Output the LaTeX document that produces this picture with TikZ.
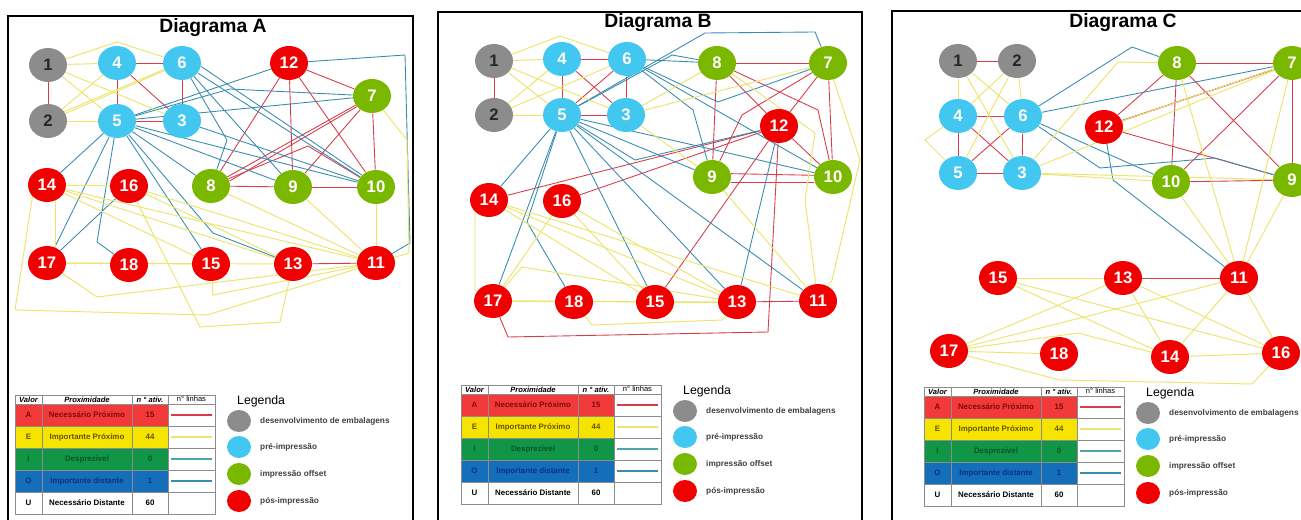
\documentclass[tikz,border=0pt]{standalone}
\usepackage{fontspec}
\setmainfont{Liberation Sans}
\usepackage{tikz}
\usetikzlibrary{shapes.geometric, positioning, backgrounds}

\definecolor{devgray}{RGB}{140,140,140}
\definecolor{preblue}{RGB}{66,200,240}
\definecolor{offgreen}{RGB}{122,184,0}
\definecolor{posred}{RGB}{240,0,0}
\definecolor{lnred}{RGB}{214,60,74}
\definecolor{lnyel}{RGB}{236,228,110}
\definecolor{lnblue}{RGB}{56,140,176}
\definecolor{lnteal}{RGB}{80,165,170}
\definecolor{rowA}{RGB}{242,58,58}
\definecolor{rowE}{RGB}{246,228,0}
\definecolor{rowI}{RGB}{16,150,70}
\definecolor{rowO}{RGB}{20,110,185}
\definecolor{txtA}{RGB}{125,10,10}
\definecolor{txtE}{RGB}{100,85,0}
\definecolor{txtI}{RGB}{10,85,40}
\definecolor{txtO}{RGB}{10,50,130}

\begin{document}
\begin{tikzpicture}[x=0.02cm, y=-0.02cm,
    proc/.style={ellipse, minimum width=0.76cm, minimum height=0.68cm,
      inner sep=0pt, text=white, font=\bfseries\fontsize{9.5}{10}\selectfont},
    devnode/.style={proc, fill=devgray, text=black!85},
    prenode/.style={proc, fill=preblue}, offnode/.style={proc, fill=offgreen},
    posnode/.style={proc, fill=posred},
    redline/.style={lnred, line width=0.5pt},
    yelline/.style={lnyel, line width=0.55pt},
    blueline/.style={lnblue, line width=0.5pt},
    panel/.style={draw=black, line width=1.2pt},
    title/.style={anchor=base, font=\bfseries\fontsize{11}{12}\selectfont},
    gridline/.style={draw=black!45, line width=0.4pt},
    hdr/.style={font=\bfseries\itshape\fontsize{4.3}{5}\selectfont},
    cell/.style={font=\bfseries\fontsize{4.5}{5}\selectfont},
    legdot/.style={ellipse, minimum width=0.48cm, minimum height=0.44cm,
      inner sep=0pt},
    legtxt/.style={anchor=west, text=black!75,
      font=\bfseries\fontsize{4.7}{5}\selectfont}, ]

    \useasboundingbox (0,0) rectangle (1301,520);
    \clip (0,0) rectangle (1301,520);

    % Panels
    \draw[panel] (8,16) rectangle (413,530);
    \draw[panel] (438,12) rectangle (862,530);
    \draw[panel] (892,11) rectangle (1320,530);
    \node[title] (titleA) at (213,33) {Diagrama A};
    \node[title] (titleB) at (658,28) {Diagrama B};
    \node[title] (titleC) at (1123,28) {Diagrama C};

    % Sectors
    \foreach \p/\n/\x/\y in {a/1/48/65, a/2/48/121, b/1/494/61, b/2/494/115,
      c/1/958/61, c/2/1017/61}
      \node[devnode] (\p\n) at (\x,\y) {\n};
    \foreach \p/\n/\x/\y in {a/4/117/63, a/6/182/63, a/5/117/121, a/3/182/121,
      b/4/562/59, b/6/627/59, b/5/562/115, b/3/626/115,
      c/4/958/116, c/6/1023/116, c/5/958/173, c/3/1022/173}
      \node[prenode] (\p\n) at (\x,\y) {\n};
    \foreach \p/\n/\x/\y in {a/7/372/96, a/8/211/186, a/9/293/187, a/10/376/187,
      b/8/717/63, b/7/828/63, b/9/712/177, b/10/833/177,
      c/8/1177/63, c/7/1292/63, c/10/1171/182, c/9/1292/180}
      \node[offnode] (\p\n) at (\x,\y) {\n};
    \foreach \p/\n/\x/\y in {a/12/289/63, a/14/47/185, a/16/129/186,
      a/17/47/263, a/18/129/265, a/15/211/264, a/13/293/264, a/11/376/263,
      b/12/779/126, b/14/489/200, b/16/562/201, b/17/493/301, b/18/574/302,
      b/15/655/302, b/13/737/302, b/11/818/301,
      c/12/1104/127, c/15/998/278, c/13/1123/278, c/11/1239/278,
      c/17/949/351, c/18/1059/354, c/14/1170/357, c/16/1281/353}
      \node[posnode] (\p\n) at (\x,\y) {\n};

    \begin{scope}[on background layer]
    % Diagrama A
    \foreach \s/\t in {1/2,4/6,4/5,4/3,6/3,5/3,12/7,12/8,12/9,12/10,7/8,7/9,
      7/10,8/9,9/10,13/11}
      \draw[redline] (a\s) -- (a\t);
    \draw[redline] (a7.215) -- (a8.15); \draw[redline] (a8) -- (308,146) -- (a10);
    \foreach \s/\t in {5/12,5/7,5/10,5/9,5/8,5/14,5/17,5/15,16/17,3/10,6/9,6/10}
      \draw[blueline] (a\s) -- (a\t);
    \draw[blueline] (a6.-10) -- (a10.140);
    \draw[blueline] (a12) -- (405,55) -- (410,243) -- (a11);
    \draw[blueline] (a5) -- (230,89) -- (a7);
    \draw[blueline] (a5) -- (97,242) -- (a18);
    \draw[blueline] (a5) -- (213,233) -- (a13);
    \draw[blueline] (a6) -- (227,140) -- (a8);
    \foreach \s/\t in {1/4,1/5,1/3,2/4,2/6,2/5,14/16,14/15,14/13,14/11,16/11,
      16/13,17/15,17/13,8/11,9/11,10/11}
      \draw[yelline] (a\s) -- (a\t);
    \draw[yelline] (a2.30) -- (a6.200); \draw[yelline] (a14.-60) -- (a17.60);
    \draw[yelline] (a1) -- (117,42) -- (a6);
    \draw[yelline] (a14) -- (33,193) -- (15,310) -- (207,315) -- (a11);
    \draw[yelline] (a16) -- (200,327) -- (280,322) -- (a13);
    \draw[yelline] (a17) -- (97,297) -- (a11);
    \draw[yelline] (a15) -- (213,295) -- (a11);
    \draw[yelline] (a7) -- (407,140) -- (409,253) -- (a11);

    % Diagrama B
    \foreach \s/\t in {1/2,4/6,4/5,4/3,6/3,6/5,5/3,8/7,8/12,8/9,7/12,7/10,
      12/14,12/16,12/15,12/10,13/11}
      \draw[redline] (b\s) -- (b\t);
    \draw[redline] (b9.10) -- (b10.175); \draw[redline] (b9.-15) -- (b10.-165);
    \draw[redline] (b12) -- (768,332) -- (508,337) -- (b17);
    \draw[redline] (b7) -- (742,115) -- (b9);
    \draw[redline] (b8) -- (818,110) -- (b10);
    \foreach \s/\t in {6/8,6/10,5/10,5/9,5/14,5/17,5/15,5/13,5/11,12/13}
      \draw[blueline] (b\s) -- (b\t);
    \draw[blueline] (b5) -- (705,33) -- (815,32) -- (b7);
    \draw[blueline] (b5) -- (672,55) -- (b8);
    \draw[blueline] (b6) -- (718,102) -- (b7);
    \draw[blueline] (b6) -- (693,110) -- (b9);
    \draw[blueline] (b5) -- (527,222) -- (b18);
    \draw[blueline] (b5) -- (635,160) -- (b12);
    \foreach \s/\t in {1/4,1/5,1/3,2/4,2/6,2/5,3/7,3/8,3/9,9/11,14/15,14/13,
      14/11,16/13,16/15,16/17,17/15,17/13,17/18,15/13}
      \draw[yelline] (b\s) -- (b\t);
    \draw[yelline] (b1) -- (560,36) -- (b6);
    \draw[yelline] (b7) -- (860,160) -- (832,280) -- (b11);
    \draw[yelline] (b8) -- (815,133) -- (805,200) -- (b11);
    \draw[yelline] (b14) -- (475,213) -- (475,290) -- (b17);
    \draw[yelline] (b18) -- (592,325) -- (722,320) -- (b13);
    \draw[yelline] (b17) -- (522,267) -- (b13);

    % Diagrama C
    \foreach \s/\t in {1/2,4/6,4/5,4/3,6/3,6/5,5/3,8/7,8/12,8/10,8/9,7/12,
      7/10,7/9,12/9,10/9,13/11}
      \draw[redline] (c\s) -- (c\t);
    \draw[redline] (c7.200) -- (c12.20);
    \foreach \s/\t in {6/7,6/10}
      \draw[blueline] (c\s) -- (c\t);
    \draw[blueline] (c6) -- (1132,47) -- (c8);
    \draw[blueline] (c6) -- (1100,168) -- (1215,158) -- (c9);
    \draw[blueline] (c12) -- (1113,180) -- (c11);
    \foreach \s/\t in {1/4,1/6,1/3,2/4,2/5,2/6,3/7,3/9,3/10,12/7,8/11,10/11,
      9/11,7/11,15/13,15/14,15/16,13/17,13/14,13/16,11/17,11/14,11/16,17/18,
      14/16}
      \draw[yelline] (c\s) -- (c\t);
    \draw[yelline] (c4) -- (925,140) -- (c5);
    \draw[yelline] (c3) -- (1118,62) -- (c8);
    \draw[yelline] (c17) -- (1078,333) -- (c14);
    \draw[yelline] (c17) -- (1060,380) -- (1252,384) -- (c16);
    \end{scope}

    % Tables and legends
    \foreach \px/\py/\pn in {15/395/a, 461/385/b, 924/387/c}{
    \begin{scope}[shift={(\px,\py)}]
      \fill[rowA] (0,9) rectangle (153,31); \fill[rowE] (0,31) rectangle (153,53);
      \fill[rowI] (0,53) rectangle (153,75); \fill[rowO] (0,75) rectangle (153,97);
      \draw[gridline] (0,0) rectangle (200,119);
      \foreach \cx in {27,117,153} \draw[gridline] (\cx,0) -- (\cx,119);
      \foreach \ry in {9,31,53,75,97} \draw[gridline] (0,\ry) -- (200,\ry);
      % header
      \node[hdr] (\pn-hv) at (13.5,4.5) {Valor};
      \node[hdr] (\pn-hp) at (72,4.5) {Proximidade};
      \node[hdr] (\pn-ha) at (135,4.5) {n ° ativ.};
      \node[font=\fontsize{4.3}{5}\selectfont] (\pn-hl) at (176.5,4) {n°  linhas};
      % rows
      \foreach \r/\ry/\t/\k/\c/\lc in {A/20/Necessário Próximo/15/txtA/lnred,
        E/42/Importante Próximo/44/txtE/lnyel, I/64/Desprezivel/0/txtI/lnteal,
        O/86/Importante distante/1/txtO/lnblue}{
        \node[cell, text=\c] (\pn-v\r) at (13.5,\ry) {\r};
        \node[cell, text=\c] (\pn-p\r) at (72,\ry) {\t};
        \node[cell, text=\c] (\pn-n\r) at (135,\ry) {\k};
        \coordinate (\pn-l\r) at (156,\ry); \coordinate (\pn-m\r) at (197,\ry);
        \draw[draw=\lc, line width=0.6pt] (\pn-l\r) -- (\pn-m\r);
      }
      \node[cell] (\pn-vU) at (13.5,108) {U};
      \node[cell] (\pn-pU) at (72,108) {Necessário Distante};
      \node[cell] (\pn-nU) at (135,108) {60};
      % legend
      \node[anchor=west, font=\fontsize{7}{8}\selectfont] (\pn-leg) at (216,6)
        {Legenda};
      \node[legdot, fill=devgray] (\pn-d1) at (224,26) {};
      \node[legdot, fill=preblue] (\pn-d2) at (224,52) {};
      \node[legdot, fill=offgreen] (\pn-d3) at (224,79) {};
      \node[legdot, fill=posred] (\pn-d4) at (224,106) {};
      \node[legtxt] (\pn-t1) at (239,26) {desenvolvimento de embalagens};
      \node[legtxt] (\pn-t2) at (239,52) {pré-impressão};
      \node[legtxt] (\pn-t3) at (239,79) {impressão offset};
      \node[legtxt] (\pn-t4) at (239,106) {pós-impressão};
    \end{scope}}
\end{tikzpicture}
\end{document}
